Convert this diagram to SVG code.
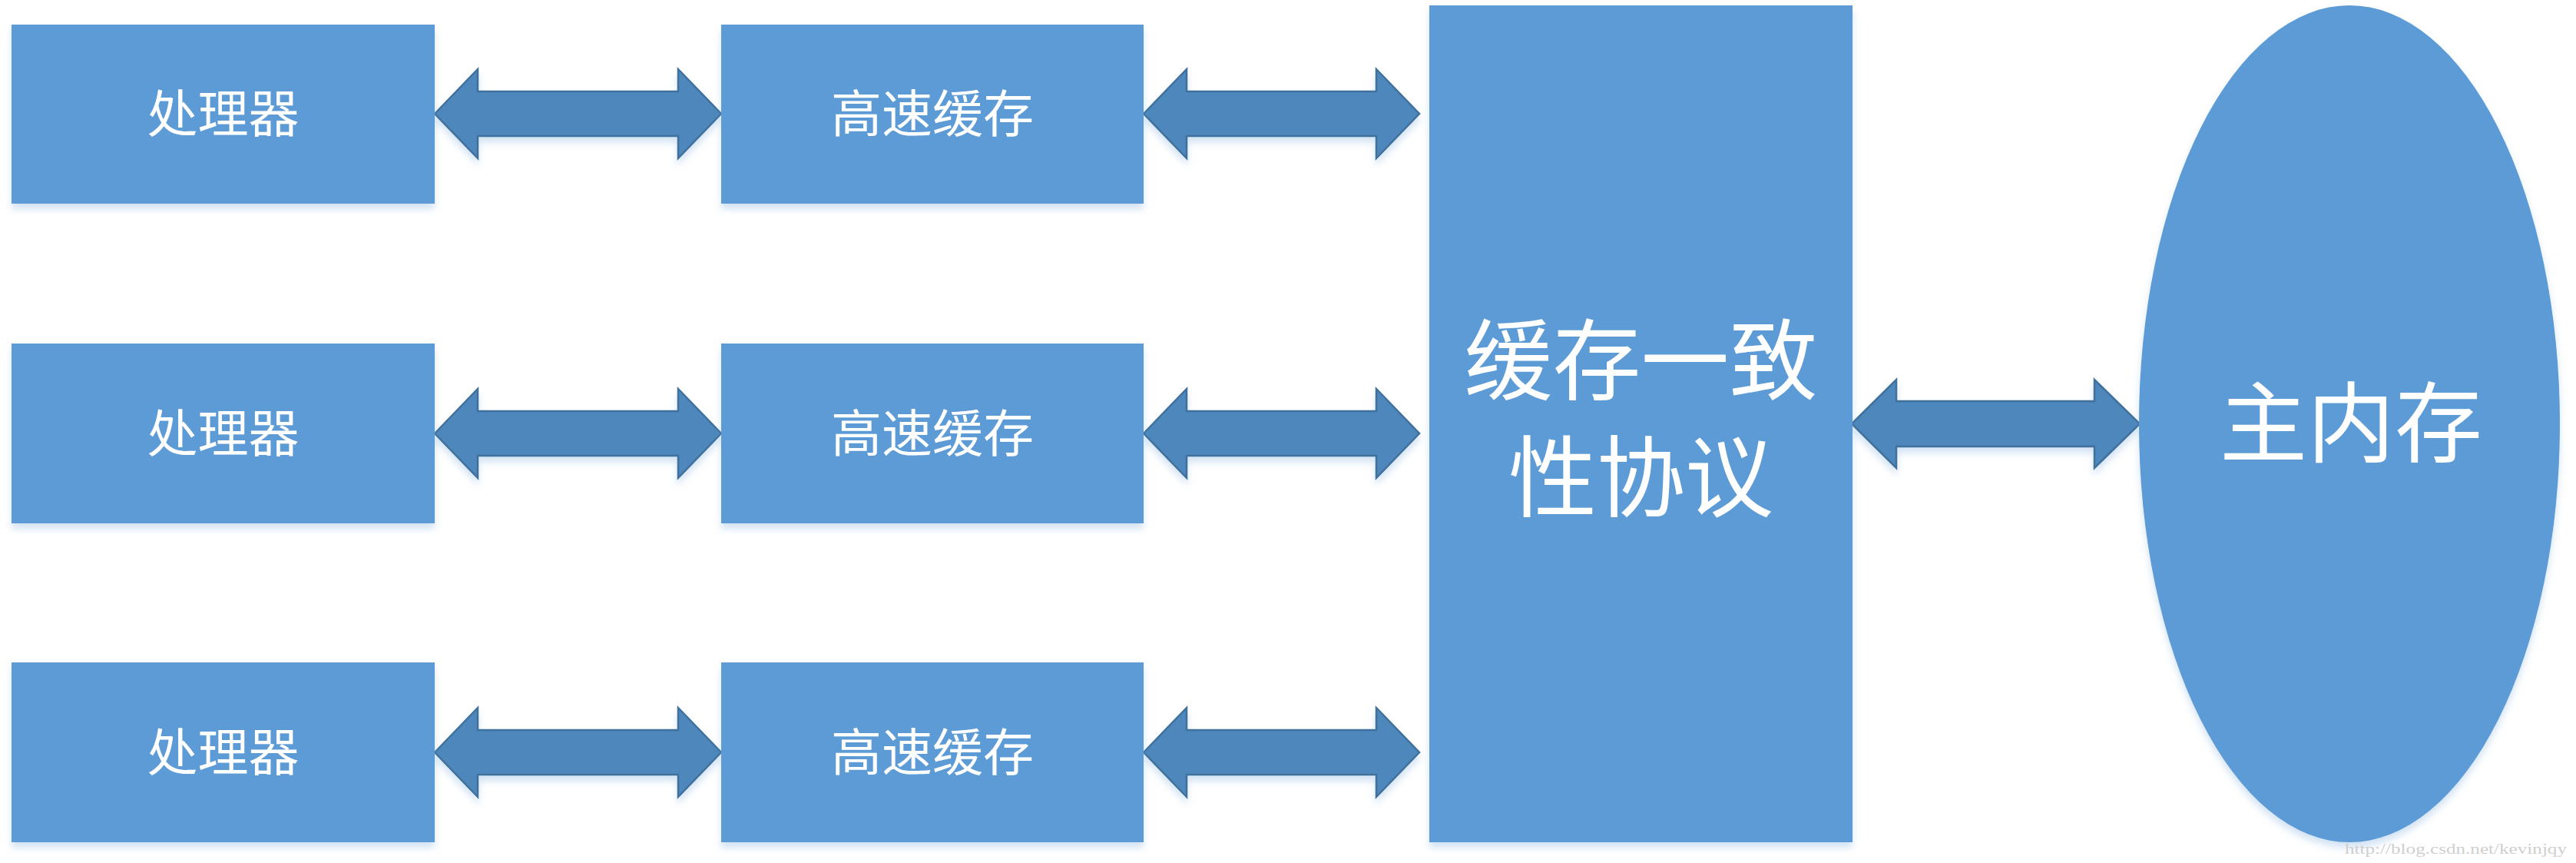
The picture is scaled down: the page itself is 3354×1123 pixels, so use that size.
<svg xmlns="http://www.w3.org/2000/svg" width="3354" height="1123" viewBox="0 0 3354 1123">
  <defs>
    <filter id="sh" x="-5%" y="-5%" width="110%" height="120%">
      <feDropShadow dx="0" dy="7" stdDeviation="5" flood-color="#5B9BD5" flood-opacity="0.28"/>
    </filter>
    <style>
      .box { fill: #5B9BD5; filter: url(#sh); }
      .arr { fill: #4E87BB; stroke: #41719C; stroke-width: 2.5; stroke-linejoin: miter; filter: url(#sh); }
      .t { fill: #FFFFFF; font-family: "Noto Sans CJK SC", "Noto Sans CJK TC", sans-serif; text-anchor: middle; }
      .s { font-size: 66px; }
      .l { font-size: 115px; }
      .wm { fill: #CFCFCF; font-family: "Liberation Serif", serif; font-size: 19px; }
    </style>
  </defs>

  <g id="connectors">
    <path class="arr" d="M566,148 L622,90 L622,119 L883,119 L883,90 L939,148 L883,206 L883,177 L622,177 L622,206 Z"/>
    <path class="arr" d="M1489,148 L1545,90 L1545,119 L1792,119 L1792,90 L1848,148 L1792,206 L1792,177 L1545,177 L1545,206 Z"/>
    <path class="arr" d="M566,564 L622,506 L622,535 L883,535 L883,506 L939,564 L883,622 L883,593 L622,593 L622,622 Z"/>
    <path class="arr" d="M1489,564 L1545,506 L1545,535 L1792,535 L1792,506 L1848,564 L1792,622 L1792,593 L1545,593 L1545,622 Z"/>
    <path class="arr" d="M566,979 L622,921 L622,950 L883,950 L883,921 L939,979 L883,1037 L883,1008 L622,1008 L622,1037 Z"/>
    <path class="arr" d="M1489,979 L1545,921 L1545,950 L1792,950 L1792,921 L1848,979 L1792,1037 L1792,1008 L1545,1008 L1545,1037 Z"/>
    <path class="arr" d="M2411,551.5 L2469,494 L2469,522 L2727,522 L2727,494 L2786,551.5 L2727,609 L2727,581 L2469,581 L2469,609 Z"/>
  </g>

  <g id="proc1">
    <rect class="box" x="15" y="32" width="551" height="233"/>
    <text class="t s" x="290.5" y="172">处理器</text>
  </g>
  <g id="cache1">
    <rect class="box" x="939" y="32" width="550" height="233"/>
    <text class="t s" x="1214" y="172">高速缓存</text>
  </g>
  <g id="proc2">
    <rect class="box" x="15" y="447" width="551" height="234"/>
    <text class="t s" x="290.5" y="588">处理器</text>
  </g>
  <g id="cache2">
    <rect class="box" x="939" y="447" width="550" height="234"/>
    <text class="t s" x="1214" y="588">高速缓存</text>
  </g>
  <g id="proc3">
    <rect class="box" x="15" y="862" width="551" height="234"/>
    <text class="t s" x="290.5" y="1003">处理器</text>
  </g>
  <g id="cache3">
    <rect class="box" x="939" y="862" width="550" height="234"/>
    <text class="t s" x="1214" y="1003">高速缓存</text>
  </g>
  <g id="coherence">
    <rect class="box" x="1861" y="7" width="551" height="1089"/>
    <text class="t l" x="2136.5" y="511">缓存一致</text>
    <text class="t l" x="2136.5" y="663">性协议</text>
  </g>
  <g id="memory">
    <ellipse class="box" cx="3059" cy="551.5" rx="274" ry="544.5"/>
    <text class="t" style="font-size:114px" x="3061" y="592">主内存</text>
  </g>

  <text class="wm" x="3053" y="1111" textLength="289" lengthAdjust="spacingAndGlyphs">http://blog.csdn.net/kevinjqy</text>
</svg>
